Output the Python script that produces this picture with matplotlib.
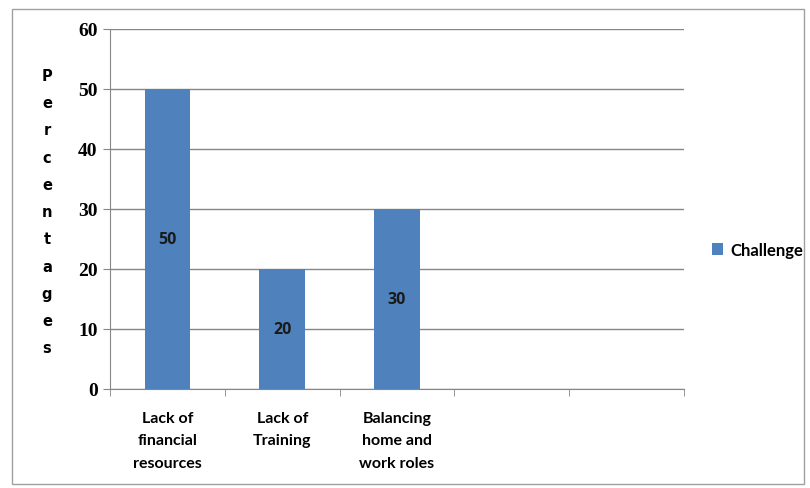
import numpy as np
import matplotlib
matplotlib.use('Agg')
from matplotlib import pyplot as plt
from matplotlib.patches import Rectangle

categories = ['Lack of\nfinancial\nresources', 'Lack of\nTraining', 'Balancing\nhome and\nwork roles', '', '']
values = [50, 20, 30]
series_name = 'Challenge'
yticks = [0, 10, 20, 30, 40, 50, 60]

bar_color = '#4f81bd'
grid_color = '#868686'

fig = plt.figure(figsize=(8.1, 4.89), dpi=100)
ax = fig.add_axes([0.136, 0.2025, 0.708, 0.7365])

x = np.arange(len(values))
bars = ax.bar(x, values, width=0.4, color=bar_color, label=series_name, zorder=3)
for b, v in zip(bars, values):
    ax.text(b.get_x() + b.get_width() / 2, v / 2, str(v), ha='center', va='center',
            fontsize=11.5, fontweight='bold', family='Open Sans', color='#1a1a1a', zorder=4)

ax.set_xlim(-0.5, len(categories) - 0.5)
ax.set_ylim(0, 60)
ax.set_yticks(yticks)
ax.set_yticklabels([str(t) for t in yticks], family='Liberation Serif', fontweight='bold', fontsize=14)
ax.yaxis.grid(True, color=grid_color, linewidth=1, zorder=0)

# category labels centred, ticks on category boundaries
ax.set_xticks(np.arange(len(categories)))
ax.set_xticklabels(categories, family='Lato', fontweight='bold', fontsize=11.5,
                   linespacing=1.75, va='top')
ax.tick_params(axis='x', length=0, pad=16)
ax.set_xticks(np.arange(len(categories) + 1) - 0.5, minor=True)
ax.tick_params(axis='x', which='minor', length=5, color=grid_color)
ax.tick_params(axis='y', length=5, color=grid_color, pad=4)

for s in ['top', 'right']:
    ax.spines[s].set_visible(False)
for s in ['left', 'bottom']:
    ax.spines[s].set_color(grid_color)

fig.text(0.058, 0.565, '\n'.join('Percentages'), ha='center', va='center',
         family='DejaVu Sans', fontweight='bold', fontsize=10.5, linespacing=2.02)

leg = fig.legend(handles=[bars], labels=[series_name], loc='center left',
                 bbox_to_anchor=(0.86, 0.487), frameon=False, handlelength=0.7,
                 handleheight=0.7, handletextpad=0.4,
                 prop={'family': 'Lato', 'weight': 'bold', 'size': 12})

fig.patches.append(Rectangle((0.015, 0.008), 0.978, 0.972, transform=fig.transFigure,
                             fill=False, edgecolor='#a0a0a0', linewidth=1))

fig.savefig('out.png', dpi=100)
